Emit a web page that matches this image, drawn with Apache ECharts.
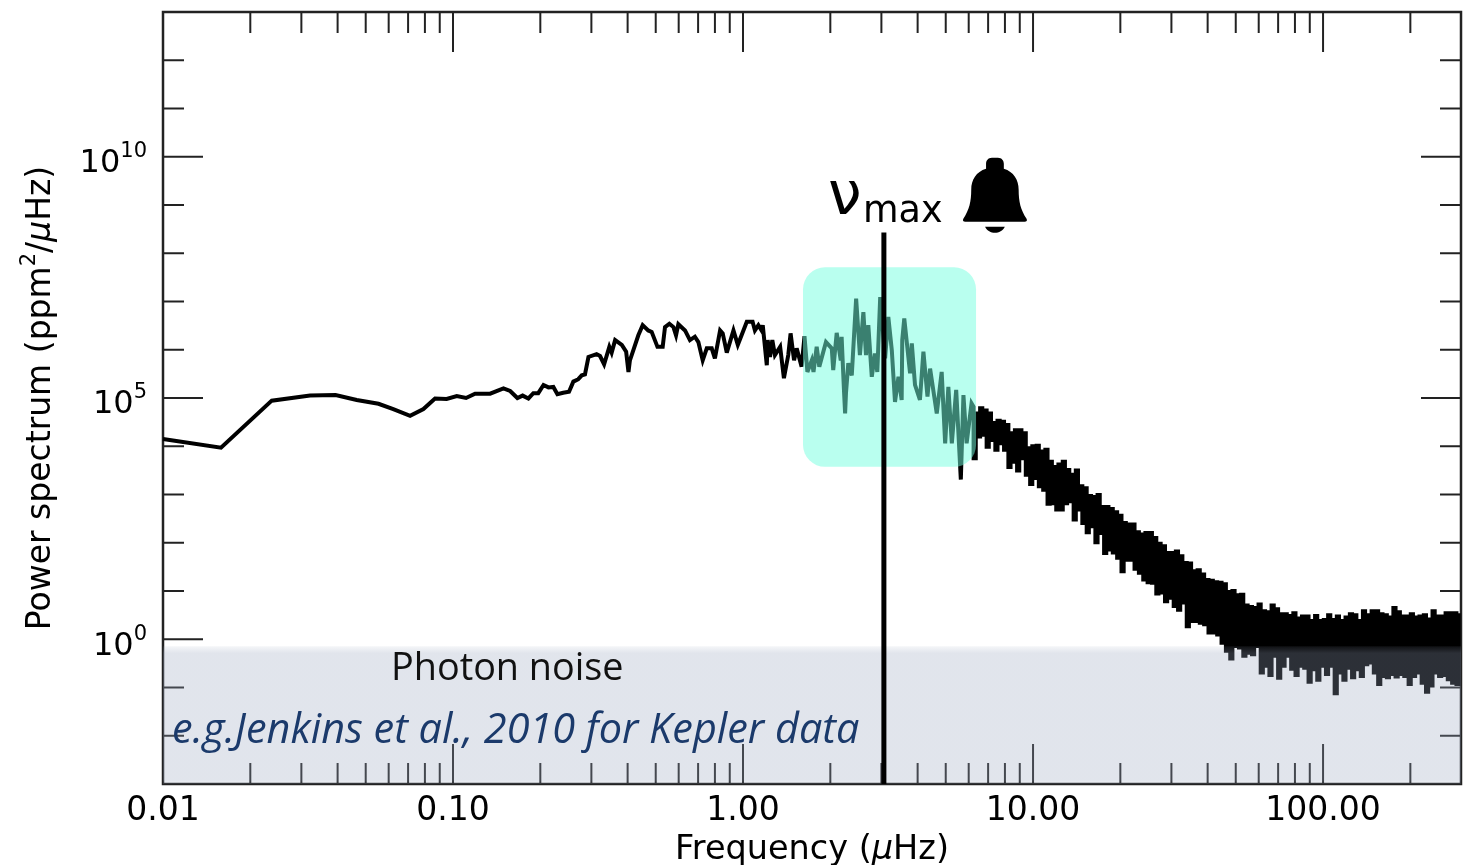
<!DOCTYPE html>
<html>
<head>
<meta charset="utf-8">
<title>Power spectrum</title>
<script src="https://cdn.jsdelivr.net/npm/echarts@6/dist/echarts.min.js"></script>
<style>
  html, body { margin: 0; padding: 0; background: #fff; }
  #main { width: 1482px; height: 865px; }
</style>
</head>
<body>
<div id="main"></div>
<script>
// everything, in dex since both axes are log

// low frequency part, single line
let lineLogFreq = [
  -2.00, -1.80, -1.625, -1.493, -1.405, -1.332, -1.257, -1.206, -1.148, -1.102,
  -1.062, -1.022, -0.987, -0.955, -0.924, -0.872, -0.826, -0.803, -0.778, -0.760,
  -0.740, -0.723, -0.706, -0.688, -0.671, -0.654, -0.640, -0.620, -0.600, -0.585,
  -0.568, -0.556, -0.545, -0.533, -0.505, -0.493, -0.479, -0.461, -0.453, -0.441,
  -0.418, -0.403, -0.395, -0.390, -0.361, -0.346, -0.327, -0.315, -0.295, -0.277,
  -0.269, -0.254, -0.240, -0.231, -0.223, -0.200, -0.183, -0.166, -0.154, -0.139,
  -0.125, -0.108, -0.097, -0.079, -0.070, -0.056, -0.033, -0.018, -0.005, 0.013,
  0.033, 0.041, 0.053, 0.064, 0.068, 0.082, 0.085, 0.093, 0.101, 0.110,
  0.128, 0.141, 0.156, 0.164, 0.176, 0.185, 0.202, 0.212, 0.222, 0.237,
  0.243, 0.254, 0.263, 0.286, 0.306, 0.311, 0.323, 0.337, 0.340, 0.348,
  0.352, 0.355, 0.363, 0.375, 0.390, 0.394, 0.403, 0.415, 0.424, 0.432,
  0.444, 0.455, 0.463, 0.473, 0.490, 0.501, 0.513, 0.524, 0.536, 0.547,
  0.549, 0.556, 0.562, 0.576, 0.582, 0.593, 0.610, 0.622, 0.636, 0.645,
  0.668, 0.685, 0.697, 0.708, 0.720, 0.735, 0.751, 0.760, 0.771, 0.788
];
let lineLogPower = [
  4.15, 3.97, 4.945, 5.05, 5.06, 4.96, 4.88, 4.77, 4.63, 4.77,
  4.99, 4.98, 5.04, 5.00, 5.09, 5.09, 5.20, 5.145, 5.00, 5.05,
  4.99, 5.10, 5.10, 5.27, 5.22, 5.23, 5.08, 5.11, 5.13, 5.34,
  5.39, 5.47, 5.49, 5.85, 5.91, 5.87, 5.70, 6.06, 5.94, 6.20,
  6.10, 5.96, 5.54, 5.78, 6.30, 6.51, 6.40, 6.37, 6.06, 6.06,
  6.47, 6.54, 6.47, 6.30, 6.53, 6.40, 6.20, 6.27, 6.16, 5.78,
  6.03, 6.03, 5.82, 6.40, 6.34, 5.94, 6.40, 6.10, 6.30, 6.58,
  6.58, 6.40, 6.51, 6.40, 6.51, 5.68, 6.20, 5.85, 6.20, 5.89,
  6.06, 5.41, 5.89, 6.34, 5.78, 6.03, 5.65, 6.28, 5.54, 5.78,
  5.54, 6.06, 5.65, 6.16, 6.03, 5.58, 6.35, 5.78, 6.27, 5.17,
  4.68, 5.10, 5.72, 5.47, 7.06, 7.09, 5.89, 6.78, 5.89, 6.51,
  5.44, 5.92, 5.54, 7.09, 5.82, 6.68, 5.99, 4.92, 5.44, 4.96,
  6.20, 6.65, 6.65, 5.51, 6.13, 5.27, 4.96, 5.96, 5.03, 5.61,
  4.68, 5.54, 4.06, 5.23, 4.06, 5.17, 3.31, 5.06, 4.06, 4.89
];

// dense high frequency part, top and bottom of the black band
let bandLogFreq = [
  0.795, 0.810, 0.825, 0.840, 0.855, 0.870, 0.885, 0.900, 0.915, 0.930,
  0.945, 0.960, 0.975, 0.990, 1.005, 1.020, 1.035, 1.050, 1.065, 1.080,
  1.095, 1.110, 1.125, 1.140, 1.155, 1.170, 1.185, 1.200, 1.215, 1.230,
  1.245, 1.260, 1.275, 1.290, 1.305, 1.320, 1.335, 1.350, 1.365, 1.380,
  1.395, 1.410, 1.425, 1.440, 1.455, 1.470, 1.485, 1.500, 1.515, 1.530,
  1.545, 1.560, 1.575, 1.590, 1.605, 1.620, 1.635, 1.650, 1.665, 1.680,
  1.695, 1.710, 1.725, 1.740, 1.755, 1.770, 1.785, 1.800, 1.815, 1.830,
  1.845, 1.860, 1.875, 1.890, 1.905, 1.920, 1.935, 1.950, 1.965, 1.980,
  1.995, 2.010, 2.025, 2.040, 2.055, 2.070, 2.085, 2.100, 2.115, 2.130,
  2.145, 2.160, 2.175, 2.190, 2.205, 2.220, 2.235, 2.250, 2.265, 2.280,
  2.295, 2.310, 2.325, 2.340, 2.355, 2.370, 2.385, 2.400, 2.415, 2.430,
  2.445, 2.460
];
let bandUpper = [
  4.82, 4.68, 4.79, 4.74, 4.68, 4.48, 4.53, 4.51, 4.44, 4.27,
  4.33, 4.33, 4.27, 3.96, 4.00, 4.01, 3.89, 3.93, 3.68, 3.57,
  3.62, 3.68, 3.51, 3.41, 3.50, 3.17, 3.13, 2.97, 2.95, 2.99,
  2.74, 2.74, 2.70, 2.63, 2.56, 2.41, 2.38, 2.38, 2.22, 2.17,
  2.20, 2.20, 2.10, 1.98, 1.93, 1.79, 1.79, 1.82, 1.72, 1.58,
  1.57, 1.41, 1.43, 1.34, 1.23, 1.21, 1.18, 1.17, 1.14, 0.98,
  1.00, 0.91, 0.92, 0.70, 0.67, 0.65, 0.72, 0.58, 0.56, 0.70,
  0.62, 0.52, 0.52, 0.48, 0.54, 0.43, 0.47, 0.47, 0.38, 0.48,
  0.38, 0.40, 0.50, 0.40, 0.47, 0.38, 0.45, 0.52, 0.50, 0.38,
  0.58, 0.50, 0.58, 0.58, 0.52, 0.50, 0.45, 0.65, 0.56, 0.47,
  0.47, 0.52, 0.45, 0.47, 0.50, 0.41, 0.58, 0.47, 0.47, 0.54,
  0.54, 0.54
];
let bandLower = [
  3.75, 4.20, 4.24, 3.99, 4.13, 3.93, 4.06, 3.93, 3.57, 3.68,
  3.50, 3.75, 3.41, 3.22, 3.34, 3.17, 3.10, 2.81, 2.82, 2.69,
  2.69, 2.82, 2.86, 2.48, 2.69, 2.41, 2.22, 2.34, 2.01, 2.20,
  1.79, 1.86, 1.80, 1.69, 1.41, 1.65, 1.65, 1.46, 1.38, 1.24,
  1.18, 1.17, 0.95, 0.97, 0.79, 0.86, 0.69, 0.61, 0.76, 0.27,
  0.38, 0.38, 0.34, 0.31, 0.14, 0.14, 0.10, -0.07, -0.24, -0.40,
  -0.14, -0.17, -0.34, -0.28, -0.31, -0.14, -0.69, -0.55, -0.74, -0.34,
  -0.80, -0.55, -0.34, -0.61, -0.74, -0.55, -0.59, -0.88, -0.62, -0.84,
  -0.55, -0.72, -0.55, -1.12, -0.69, -0.84, -0.59, -0.79, -0.62, -0.76,
  -0.52, -0.48, -0.69, -0.93, -0.76, -0.79, -0.72, -0.77, -0.72, -0.76,
  -0.93, -0.76, -0.69, -0.90, -1.09, -0.96, -0.69, -0.76, -0.74, -0.83,
  -0.90, -0.93
];

let xMajorTicks = [0.01, 0.1, 1, 10, 100];
let xMinorTicks = [
  0.02, 0.03, 0.04, 0.05, 0.06, 0.07, 0.08, 0.09,
  0.2, 0.3, 0.4, 0.5, 0.6, 0.7, 0.8, 0.9,
  2, 3, 4, 5, 6, 7, 8, 9,
  20, 30, 40, 50, 60, 70, 80, 90, 200
];
let yMajorTicks = [1, 1e5, 1e10];
let yMinorTicks = [
  1e-2, 1e-1, 1e1, 1e2, 1e3, 1e4, 1e6, 1e7, 1e8, 1e9, 1e11, 1e12
];

let xMin = 0.01, xMax = 299, yMin = 1e-3, yMax = 1e13;
let numaxFreq = 3.06, numaxTop = 2.7e8;
let boxFreq = [1.61, 6.36], boxPower = [3.75e3, 5.1e7];
let noiseTop = 0.716;
let bellAt = [7.39, 1.6e9];
let bellPath = 'path://M29 0 C25 0 23 3 23 6 L23 11 C13 14 8 22 8 32 C8 44 6 52 0 61 C-1 63 0 64 2 64 L62 64 C64 64 65 63 64 61 C58 52 56 44 56 32 C56 22 51 14 41 11 L41 6 C41 3 39 0 35 0 Z M22 69 L42 69 C40 73 36 75 32 75 C28 75 24 73 22 69 Z';

// line goes up and down the band in square steps so the band comes out solid
function spectrumPoints() {
  let pts = lineLogFreq.map((f, i) => [Math.pow(10, f), Math.pow(10, lineLogPower[i])]);
  let half = 0.0075;
  bandLogFreq.forEach((f, i) => {
    let next = i + 1 < bandUpper.length ? bandUpper[i + 1] : bandUpper[i];
    pts.push([Math.pow(10, f), Math.pow(10, bandUpper[i])]);
    pts.push([Math.pow(10, f), Math.pow(10, bandLower[i])]);
    pts.push([Math.pow(10, f + half), Math.pow(10, bandLower[i])]);
    pts.push([Math.pow(10, f + half), Math.pow(10, next)]);
  });
  return pts;
}

function tickData() {
  let rows = [];
  xMajorTicks.forEach(v => { rows.push([v, yMin, 0, -1, 40], [v, yMax, 0, 1, 40]); });
  xMinorTicks.forEach(v => { rows.push([v, yMin, 0, -1, 21], [v, yMax, 0, 1, 21]); });
  yMajorTicks.forEach(v => { rows.push([xMin, v, 1, 0, 40], [xMax, v, -1, 0, 40]); });
  yMinorTicks.forEach(v => { rows.push([xMin, v, 1, 0, 21], [xMax, v, -1, 0, 21]); });
  return rows;
}

function renderTick(params, api) {
  let p = api.coord([api.value(0), api.value(1)]);
  let len = api.value(4);
  return {
    type: 'line',
    shape: { x1: p[0], y1: p[1], x2: p[0] + api.value(2) * len, y2: p[1] + api.value(3) * len },
    style: { stroke: '#222', lineWidth: 2 }
  };
}

function renderBox(params, api) {
  let a = api.coord([api.value(0), api.value(3)]);
  let b = api.coord([api.value(1), api.value(2)]);
  return {
    type: 'rect',
    shape: { x: a[0], y: a[1], width: b[0] - a[0], height: b[1] - a[1], r: 22 },
    style: { fill: 'rgba(116,255,224,0.5)' }
  };
}

function renderNoise(params, api) {
  let a = api.coord([api.value(0), api.value(3)]);
  let b = api.coord([api.value(1), api.value(2)]);
  let h = b[1] - a[1];
  return {
    type: 'rect',
    shape: { x: a[0], y: a[1], width: b[0] - a[0], height: h },
    style: {
      fill: new echarts.graphic.LinearGradient(0, 0, 0, 1, [
        { offset: 0, color: 'rgba(152,165,190,0.10)' },
        { offset: 7 / h, color: 'rgba(152,165,190,0.29)' },
        { offset: 1 - 4 / h, color: 'rgba(152,165,190,0.29)' },
        { offset: 1, color: 'rgba(152,165,190,0.14)' }
      ])
    }
  };
}

let chart = echarts.init(document.getElementById('main'));

let option = {
  animation: false,
  backgroundColor: '#fff',
  textStyle: { fontFamily: 'DejaVu Sans' },
  grid: {
    show: true, left: 163, right: 21, top: 12, bottom: 81,
    outerBoundsMode: 'none',
    borderColor: '#222', borderWidth: 2.5, backgroundColor: 'transparent'
  },
  xAxis: {
    type: 'log', logBase: 10, min: xMin, max: xMax,
    name: 'Frequency ({it|\u03bc}Hz)',
    nameLocation: 'middle', nameGap: 45,
    nameTextStyle: {
      color: '#000', fontSize: 33.5, fontFamily: 'DejaVu Sans',
      rich: { it: { fontSize: 33.5, fontStyle: 'italic', fontFamily: 'DejaVu Sans', color: '#000' } }
    },
    axisLine: { show: false }, axisTick: { show: false }, splitLine: { show: false },
    axisLabel: {
      color: '#000', fontSize: 33, margin: 11,
      customValues: xMajorTicks,
      formatter: v => v.toFixed(2)
    }
  },
  yAxis: {
    type: 'log', logBase: 10, min: yMin, max: yMax,
    name: 'Power spectrum (ppm{sup|2}/{it|\u03bc}Hz)',
    nameLocation: 'middle', nameRotate: 90, nameGap: 99,
    nameTextStyle: {
      color: '#000', fontSize: 33, fontFamily: 'DejaVu Sans',
      rich: {
        sup: { fontSize: 21, color: '#000', fontFamily: 'DejaVu Sans', verticalAlign: 'top', padding: [0, 0, 24, 0] },
        it: { fontSize: 33, fontStyle: 'italic', fontFamily: 'DejaVu Sans', color: '#000' }
      }
    },
    axisLine: { show: false }, axisTick: { show: false }, splitLine: { show: false },
    axisLabel: {
      margin: 16, padding: [14, 0, 0, 0],
      customValues: yMajorTicks,
      formatter: v => '{b|10}{s|' + Math.round(Math.log10(v)) + '}',
      rich: {
        b: { fontSize: 32, color: '#000', fontFamily: 'DejaVu Sans' },
        s: { fontSize: 21, color: '#000', fontFamily: 'DejaVu Sans', verticalAlign: 'top', padding: [0, 0, 24, 0] }
      }
    }
  },
  series: [
    {
      name: 'ticks', type: 'custom', z: 1, silent: true, clip: false,
      encode: { x: 0, y: 1 }, data: tickData(), renderItem: renderTick
    },
    {
      name: 'spectrum', type: 'line', z: 2, silent: true, showSymbol: false, symbol: 'none',
      sampling: 'none', smooth: false,
      lineStyle: { color: '#000', width: 4, join: 'miter', miterLimit: 4 },
      data: spectrumPoints()
    },
    {
      name: 'numax box', type: 'custom', z: 3, silent: true,
      encode: { x: [0, 1], y: [2, 3] },
      data: [[boxFreq[0], boxFreq[1], boxPower[0], boxPower[1]]],
      renderItem: renderBox
    },
    {
      name: 'photon noise', type: 'custom', z: 4, silent: true,
      encode: { x: [0, 1], y: [2, 3] },
      data: [[xMin, xMax, yMin, noiseTop]],
      renderItem: renderNoise
    },
    {
      name: 'numax', type: 'line', z: 5, silent: true, symbol: 'none',
      lineStyle: { color: '#000', width: 5 },
      data: [[numaxFreq, yMin], [numaxFreq, numaxTop]]
    },
    {
      name: 'bell', type: 'scatter', z: 6, silent: true,
      symbol: bellPath, symbolSize: [64, 75], itemStyle: { color: '#000', opacity: 1 },
      data: [bellAt]
    }
  ],
  graphic: [
    { type: 'text', z: 10, left: 828, top: 168,
      style: { text: '\u03bd', font: '60px "DejaVu Sans"', fill: '#000' } },
    { type: 'text', z: 10, left: 863, top: 194,
      style: { text: 'max', font: '36.5px "DejaVu Sans"', fill: '#000' } },
    { type: 'text', z: 10, left: 391, top: 650,
      style: { text: 'Photon noise', font: '37.8px "Open Sans"', fill: '#111' } },
    { type: 'text', z: 10, left: 172, top: 711,
      style: { text: 'e.g.Jenkins et al., 2010 for Kepler data', font: 'italic 41.4px "Open Sans"', fill: '#1b3a6b' } }
  ]
};

chart.setOption(option);
</script>
</body>
</html>
